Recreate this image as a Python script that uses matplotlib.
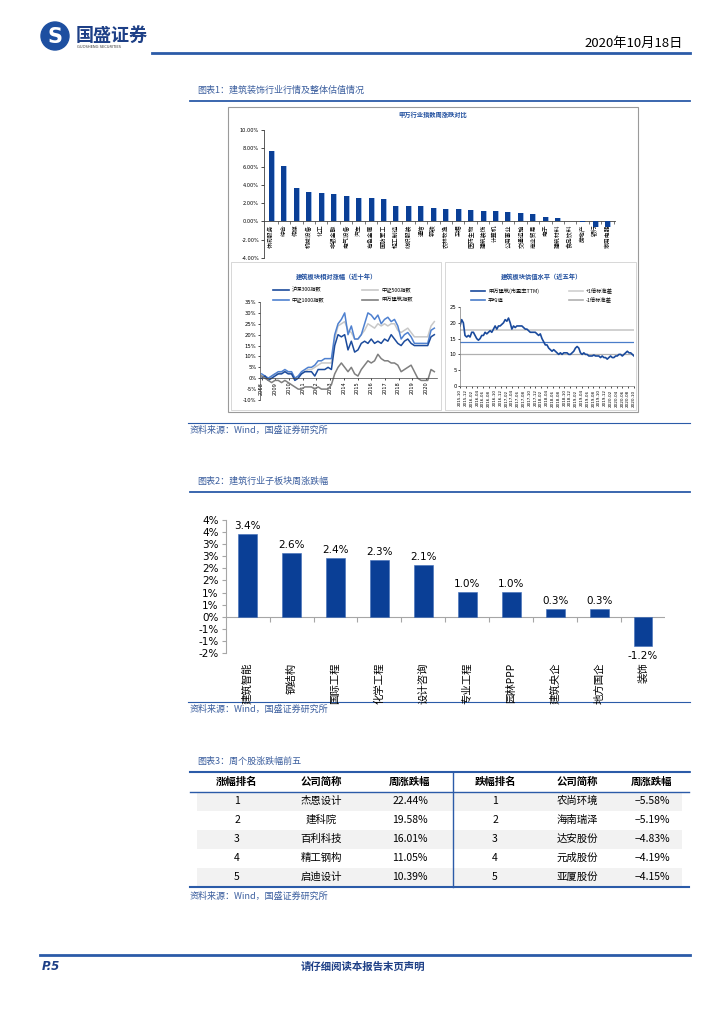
import matplotlib
matplotlib.use("Agg")
import matplotlib.pyplot as plt
from matplotlib.patches import Rectangle, Circle
import numpy as np

plt.rcParams['font.family'] = ['DejaVu Sans', 'Noto Sans CJK SC']
plt.rcParams['axes.unicode_minus'] = False

W, H = 724, 1024
CJK = ['Noto Sans CJK SC', 'DejaVu Sans']
RULE = '#2B5BA8'
TXT_BLUE = '#3B5E9E'
NAVY = '#0A3F96'
GRAY_AX = '#A6A6A6'

# chart 1 top: SW level-1 industries, weekly change (%)
sw_names = ['休闲服务', '综合', '传媒', '机械设备', '化工', '非银金融', '电气设备', '汽车',
            '有色金属', '国防军工', '轻工制造', '纺织服装', '通信', '钢铁', '农林牧渔', '采掘',
            '医药生物', '建筑装饰', '计算机', '公用事业', '交通运输', '商业贸易', '电子',
            '建筑材料', '食品饮料', '房地产', '银行', '家用电器']
sw_change = [7.67, 6.11, 3.67, 3.22, 3.11, 2.96, 2.74, 2.56, 2.56, 2.44, 1.74, 1.74, 1.67, 1.52,
             1.41, 1.33, 1.26, 1.11, 1.11, 1.00, 0.89, 0.78, 0.44, 0.33, 0.07, -0.11, -0.56, -0.56]

# chart 1 bottom left: relative performance of construction sector (%)
rel_years = ['2008', '2009', '2010', '2011', '2012', '2013', '2014', '2015', '2016', '2017',
             '2018', '2019', '2020']
rel_hs300 = [0, 1, -1, 0, 1, 2, 2, 3, 2, 2,
             -1, 0, 2, 3, 3, 3, 1, 4, 4, 4,
             5, 4, 15, 20, 19, 20, 13, 17, 12, 13,
             16, 17, 16, 18, 16, 17, 16, 18, 17, 20,
             18, 16, 15, 17, 18, 16, 15, 15, 15, 15,
             15, 19, 20]
rel_zz500 = [1, 1, 0, 1, 2, 2, 3, 3, 3, 2,
             0, 1, 2, 3, 4, 4, 5, 6, 7, 7,
             7, 7, 18, 24, 25, 26, 22, 21, 18, 18,
             20, 22, 25, 24, 23, 25, 24, 25, 24, 25,
             25, 22, 21, 22, 23, 21, 19, 19, 19, 19,
             19, 24, 26]
rel_zz1000 = [2, 1, 0, 1, 2, 3, 3, 4, 3, 3,
              0, 1, 3, 4, 5, 5, 6, 8, 8, 9,
              9, 9, 20, 25, 27, 30, 20, 24, 18, 18,
              20, 25, 30, 29, 27, 29, 25, 27, 28, 26,
              27, 24, 18, 20, 21, 19, 16, 16, 16, 16,
              16, 22, 23]
rel_sw = [1, 0, -1, -2, -1, -1, -2, -1, -2, -3,
          -4, -5, -5, -4, -4, -4, -5, -4, -5, -5,
          -5, -3, 2, 5, 7, 5, 3, 5, 2, 1,
          4, 6, 8, 7, 8, 11, 9, 8, 8, 7,
          7, 6, 3, 4, 5, 6, 3, 0, -1, -1,
          -1, 4, 3]

# chart 1 bottom right: PE (TTM) of construction sector, last five years
pe_dates = ['2015-10', '2015-12', '2016-02', '2016-04', '2016-06', '2016-08', '2016-10', '2016-12',
            '2017-02', '2017-04', '2017-06', '2017-08', '2017-10', '2017-12', '2018-02', '2018-04',
            '2018-06', '2018-08', '2018-10', '2018-12', '2019-02', '2019-04', '2019-06', '2019-08',
            '2019-10', '2019-12', '2020-02', '2020-04', '2020-06', '2020-08', '2020-10']
pe_ttm = [19, 21, 20, 16, 15.5, 16, 15.5, 17, 17, 16, 15, 14.5, 15, 16, 16, 17, 16.5, 17, 17.5, 17,
          18, 19, 18, 19, 19, 19.5, 20, 21, 20.5, 21.5, 20, 18, 19, 18.5, 19, 19, 19, 19, 18.5, 18,
          18, 17.5, 17, 17, 17, 17, 16.5, 16, 16.5, 15, 14, 13, 13, 12, 11.5, 11, 11.5, 11, 10.5, 10,
          10.5, 10, 10.5, 10.5, 10.5, 10, 10, 10.5, 11, 12, 12.5, 12, 10.5, 10, 10.5, 10, 10, 9.5,
          9.5, 9.5, 9.8, 9.5, 9.5, 9.5, 9, 9.5, 9, 9, 8.5, 9, 9.5, 9, 9, 9.5, 9.5, 10, 10, 9.5, 10,
          10.5, 11, 10.5, 10.5, 10, 9.5]
pe_plus_std = 17.6
pe_mean = 13.9
pe_minus_std = 10.0

# chart 2: construction sub-sectors weekly change (%)
sub_names = ['建筑智能', '钢结构', '国际工程', '化学工程', '设计咨询', '专业工程', '园林PPP',
             '建筑央企', '地方国企', '装饰']
sub_change = [3.44, 2.62, 2.44, 2.34, 2.14, 1.04, 1.03, 0.34, 0.32, -1.22]
sub_ticks = [4.0, 3.5, 3.0, 2.5, 2.0, 1.5, 1.0, 0.5, 0.0, -0.5, -1.0, -1.5]
sub_tick_labels = ['4%', '4%', '3%', '3%', '2%', '2%', '1%', '1%', '0%', '-1%', '-1%', '-2%']

# chart 3: top five gainers / losers
table_header = ['涨幅排名', '公司简称', '周涨跌幅', '跌幅排名', '公司简称', '周涨跌幅']
gain_rank = [1, 2, 3, 4, 5]
gain_names = ['杰恩设计', '建科院', '百利科技', '精工钢构', '启迪设计']
gain_pct = [22.44, 19.58, 16.01, 11.05, 10.39]
loss_rank = [1, 2, 3, 4, 5]
loss_names = ['农尚环境', '海南瑞泽', '达安股份', '元成股份', '亚厦股份']
loss_pct = [-5.58, -5.19, -4.83, -4.19, -4.15]


def box(x0, y0, x1, y1):
    # pixel box (top-left origin) -> figure fraction
    return [x0 / W, 1 - y1 / H, (x1 - x0) / W, (y1 - y0) / H]


fig = plt.figure(figsize=(7.24, 10.24), dpi=100)
page = fig.add_axes([0, 0, 1, 1])
page.set_xlim(0, W)
page.set_ylim(H, 0)
page.axis('off')

# header
page.add_patch(Circle((55, 36), 14, color='#1D4FA0'))
page.text(55, 37, 'S', color='white', fontsize=15, fontweight='bold', ha='center', va='center')
page.text(76, 35, '国盛证券', fontsize=13, fontweight='bold', color='#1D3F86', va='center', family=CJK)
page.text(77, 47, 'GUOSHENG SECURITIES', fontsize=2.6, color='#333333', va='center')
page.text(683, 43, '2020年10月18日', fontsize=9.5, ha='right', va='center', family=CJK)
page.plot([152, 690], [53, 53], color=RULE, lw=2)


def section(y_title, title):
    page.text(197, y_title, title, fontsize=6.5, color=TXT_BLUE, va='center', style='italic', family=CJK)
    page.plot([190, 690], [y_title + 11, y_title + 11], color=RULE, lw=1.3)


def source(y):
    page.text(190, y, '资料来源：Wind，国盛证券研究所', fontsize=6.5, color=TXT_BLUE, va='center',
              style='italic', family=CJK)


section(90, '图表1：建筑装饰行业行情及整体估值情况')
page.add_patch(Rectangle((228, 107), 410, 305, fill=False, ec='#9A9A9A', lw=0.8))
page.add_patch(Rectangle((231, 262), 210, 148, fill=False, ec='#C8C8C8', lw=0.5))
page.add_patch(Rectangle((445, 262), 191, 148, fill=False, ec='#C8C8C8', lw=0.5))
page.plot([188, 690], [423, 423], color=RULE, lw=0.8)
source(430)

section(481, '图表2：建筑行业子板块周涨跌幅')
page.plot([188, 690], [702, 702], color=RULE, lw=0.8)
source(709)

section(761, '图表3：周个股涨跌幅前五')

# ---- chart 1 top ----
page.text(433, 115, '申万行业指数周涨跌对比', fontsize=4.5, fontweight='bold', color='#1F4E9E',
          ha='center', va='center', family=CJK)
ax1 = fig.add_axes(box(264, 130, 615, 258))
ax1.spines['bottom'].set_position(('data', 0))
x1 = np.arange(len(sw_change))
ax1.bar(x1 + 0.08, sw_change, width=0.4, color='#9DBBE6', zorder=2)
ax1.bar(x1, sw_change, width=0.4, color=NAVY, zorder=3)
ax1.set_xlim(-0.6, len(sw_change) - 0.4)
ax1.set_ylim(-4, 10)
ax1.set_yticks(np.arange(-4, 10.1, 2))
ax1.set_yticklabels(['%.2f%%' % v for v in np.arange(-4, 10.1, 2)], fontsize=3.6)
ax1.set_xticks(x1)
ax1.set_xticklabels(sw_names, rotation=90, fontsize=4.2, va='top', family=CJK)
ax1.set_xticks(x1 + 0.5, minor=True)
ax1.tick_params(axis='x', which='major', length=0, pad=2)
ax1.tick_params(axis='x', which='minor', length=2, width=0.5, color='#404040')
ax1.tick_params(axis='y', length=2, width=0.5, pad=1.5)
for s in ['top', 'right']:
    ax1.spines[s].set_visible(False)
ax1.spines['left'].set_color('#404040')
ax1.spines['bottom'].set_color('#404040')
for s in ['left', 'bottom']:
    ax1.spines[s].set_linewidth(0.6)
ax1.patch.set_alpha(0)

# ---- chart 1 bottom left ----
page.text(336, 276, '建筑板块相对涨幅（近十年）', fontsize=4.5, fontweight='bold', color='#1F4E9E',
          ha='center', va='center', family=CJK)
ax2 = fig.add_axes(box(260, 302, 437, 400))
ax2.spines['bottom'].set_position(('data', 0))
xr = np.arange(len(rel_hs300))
ax2.plot(xr, rel_zz500, color='#C8C8C8', lw=1.1, label='中证500指数')
ax2.plot(xr, rel_zz1000, color='#4F81D0', lw=1.1, label='中证1000指数')
ax2.plot(xr, rel_hs300, color='#1C4B9C', lw=1.1, label='沪深300指数')
ax2.plot(xr, rel_sw, color='#7F7F7F', lw=1.1, label='申万建筑指数')
ax2.set_xlim(-0.5, len(rel_hs300) - 0.2)
ax2.set_ylim(-10, 35)
ax2.set_yticks(range(-10, 36, 5))
ax2.set_yticklabels(['%d%%' % v for v in range(-10, 36, 5)], fontsize=3.8)
ax2.set_xticks(np.linspace(0, 49.5, len(rel_years)))
ax2.set_xticklabels(rel_years, rotation=90, fontsize=3.6)
ax2.tick_params(axis='both', length=1.5, width=0.5, pad=1)
for s in ['top', 'right']:
    ax2.spines[s].set_visible(False)
for s in ['left', 'bottom']:
    ax2.spines[s].set_color('#404040')
    ax2.spines[s].set_linewidth(0.5)
ax2.patch.set_alpha(0)
legend_rel = [('沪深300指数', '#1C4B9C', 273, 290), ('中证500指数', '#C8C8C8', 362, 290),
              ('中证1000指数', '#4F81D0', 273, 300), ('申万建筑指数', '#7F7F7F', 362, 300)]
for name, c, lx, ly in legend_rel:
    page.plot([lx, lx + 16], [ly, ly], color=c, lw=1.2)
    page.text(lx + 19, ly, name, fontsize=3.8, va='center', family=CJK)

# ---- chart 1 bottom right ----
page.text(541, 276, '建筑板块估值水平（近五年）', fontsize=4.5, fontweight='bold', color='#1F4E9E',
          ha='center', va='center', family=CJK)
ax3 = fig.add_axes(box(460, 307, 634, 386))
xp = np.arange(len(pe_ttm))
ax3.axhline(pe_plus_std, color='#D0D0D0', lw=1.4)
ax3.axhline(pe_mean, color='#4A7DC9', lw=0.9)
ax3.axhline(pe_minus_std, color='#B0B0B0', lw=0.9)
ax3.plot(xp, pe_ttm, color='#1A4A9C', lw=1.2)
ax3.set_xlim(0, len(pe_ttm) - 1)
ax3.set_ylim(0, 25)
ax3.set_yticks(range(0, 26, 5))
ax3.set_yticklabels([str(v) for v in range(0, 26, 5)], fontsize=3.8)
ax3.set_xticks(np.linspace(0, len(pe_ttm) - 1, len(pe_dates)))
ax3.set_xticklabels(pe_dates, rotation=90, fontsize=3.0)
ax3.tick_params(axis='both', length=1.5, width=0.5, pad=1)
for s in ['top', 'right']:
    ax3.spines[s].set_visible(False)
for s in ['left', 'bottom']:
    ax3.spines[s].set_color('#7F7F7F')
    ax3.spines[s].set_linewidth(0.5)
ax3.patch.set_alpha(0)
legend_pe = [('申万建筑(市盈率TTM)', '#1A4A9C', 471, 291), ('+1倍标准差', '#D0D0D0', 569, 291),
             ('平均值', '#4A7DC9', 471, 300), ('-1倍标准差', '#B0B0B0', 569, 300)]
for name, c, lx, ly in legend_pe:
    page.plot([lx, lx + 14], [ly, ly], color=c, lw=1.2)
    page.text(lx + 17, ly, name, fontsize=3.8, va='center', family=CJK)

# ---- chart 2 ----
ax4 = fig.add_axes(box(225.7, 520, 665, 653))
x4 = np.arange(len(sub_change))
ax4.bar(x4, sub_change, width=0.43, color=NAVY, edgecolor='#3E6CB8', lw=0.4, zorder=3)
ax4.axhline(0, color=GRAY_AX, lw=0.8, zorder=2)
ax4.vlines(x4[:-1] + 0.5, -0.2, 0, color=GRAY_AX, lw=0.8)
for i, v in enumerate(sub_change):
    if v >= 0:
        ax4.text(i, v + 0.12, '%.1f%%' % v, ha='center', va='bottom', fontsize=7.5)
    else:
        ax4.text(i, v - 0.2, '%.1f%%' % v, ha='center', va='top', fontsize=7.5)
ax4.set_xlim(-0.5, len(sub_change) - 0.5)
ax4.set_ylim(-1.5, 4.0)
ax4.set_yticks(sub_ticks)
ax4.set_yticklabels(sub_tick_labels, fontsize=7.5)
ax4.set_xticks(x4)
ax4.set_xticklabels(sub_names, rotation=90, fontsize=7.5, va='top', family=CJK)
ax4.tick_params(axis='x', length=0, pad=7)
ax4.tick_params(axis='y', length=3, width=0.8, color=GRAY_AX, pad=2)
for s in ['top', 'right', 'bottom']:
    ax4.spines[s].set_visible(False)
ax4.spines['left'].set_color(GRAY_AX)
ax4.spines['left'].set_linewidth(0.8)
ax4.patch.set_alpha(0)

# ---- chart 3: table ----
row_y = [801, 820, 839, 858, 877]
col_x = [237, 321, 410, 495, 577, 652]
for k in [0, 2, 4]:
    page.add_patch(Rectangle((197, row_y[k] - 9.5), 485, 19, color='#F2F2F2', lw=0))
page.plot([190, 689], [772.3, 772.3], color=RULE, lw=1.5)
page.plot([190, 689], [791.7, 791.7], color=RULE, lw=1.0)
page.plot([190, 689], [886.7, 886.7], color=RULE, lw=1.5)
page.plot([453.3, 453.3], [772.3, 886.7], color=RULE, lw=1.0)
for cx, h in zip(col_x, table_header):
    page.text(cx, 782, h, fontsize=7.5, fontweight='bold', ha='center', va='center', family=CJK)
for k in range(5):
    cells = [str(gain_rank[k]), gain_names[k], '%.2f%%' % gain_pct[k],
             str(loss_rank[k]), loss_names[k], ('%.2f%%' % loss_pct[k]).replace('-', '−')]
    for cx, c in zip(col_x, cells):
        page.text(cx, row_y[k], c, fontsize=7.5, ha='center', va='center', family=CJK)
source(896)

# footer
page.plot([40, 690], [955, 955], color=RULE, lw=2)
page.text(42, 967, 'P.5', fontsize=8.5, fontweight='bold', style='italic', color='#1D3F86', va='center')
page.text(363, 967, '请仔细阅读本报告末页声明', fontsize=7.5, fontweight='bold', color='#1D3F86',
          ha='center', va='center', family=CJK)

fig.savefig('out.png', dpi=100)
